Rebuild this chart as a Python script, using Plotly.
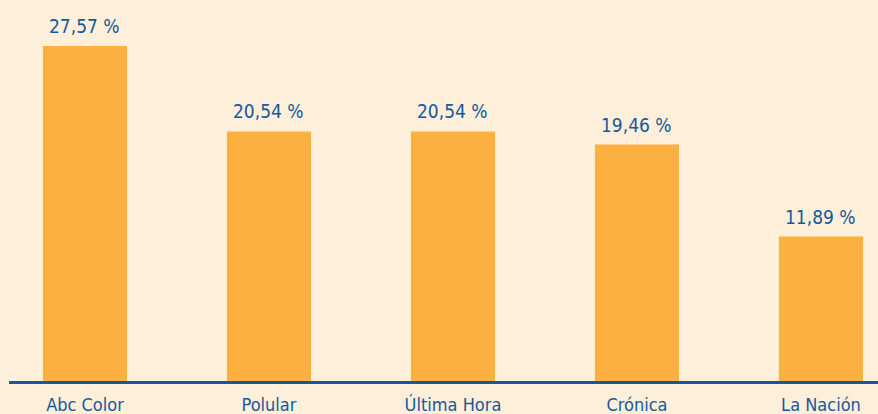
import plotly.graph_objects as go

categories = ["Abc Color", "Polular", "Última Hora", "Crónica", "La Nación"]
values = [27.57, 20.54, 20.54, 19.46, 11.89]
labels = [f"{v:.2f}".replace(".", ",") + " %" for v in values]

BG = "#FDEFDA"
BAR = "#FBB040"
BLUE = "#16589A"
FONT = "DejaVu Sans Condensed, Liberation Sans Narrow, sans-serif"

fig = go.Figure(go.Bar(
    x=categories,
    y=values,
    marker=dict(color=BAR, line=dict(width=0)),
    width=0.457,
    cliponaxis=False,
    hoverinfo="skip",
))

for c, v, t in zip(categories, values, labels):
    fig.add_annotation(
        x=c, y=v, text=t, showarrow=False,
        xanchor="center", yanchor="bottom", yshift=7,
        font=dict(family=FONT, size=19, color=BLUE),
    )

fig.update_layout(
    width=878, height=414,
    margin=dict(l=9, r=0, t=0, b=33),
    paper_bgcolor=BG, plot_bgcolor=BG,
    showlegend=False,
)
fig.update_xaxes(
    type="category",
    range=[-0.413, 4.31],
    showline=True, linecolor=BLUE, linewidth=3,
    showgrid=False, ticks="", zeroline=False,
    ticklabelstandoff=5,
    tickfont=dict(family=FONT, size=18, color=BLUE),
)
fig.update_yaxes(
    range=[0, 31.36],
    visible=False, showgrid=False, zeroline=False,
)

fig.write_html(
    "out.html",
    config={"displayModeBar": False},
    post_script="document.body.style.margin='0';document.body.style.background='" + BG + "';",
)
